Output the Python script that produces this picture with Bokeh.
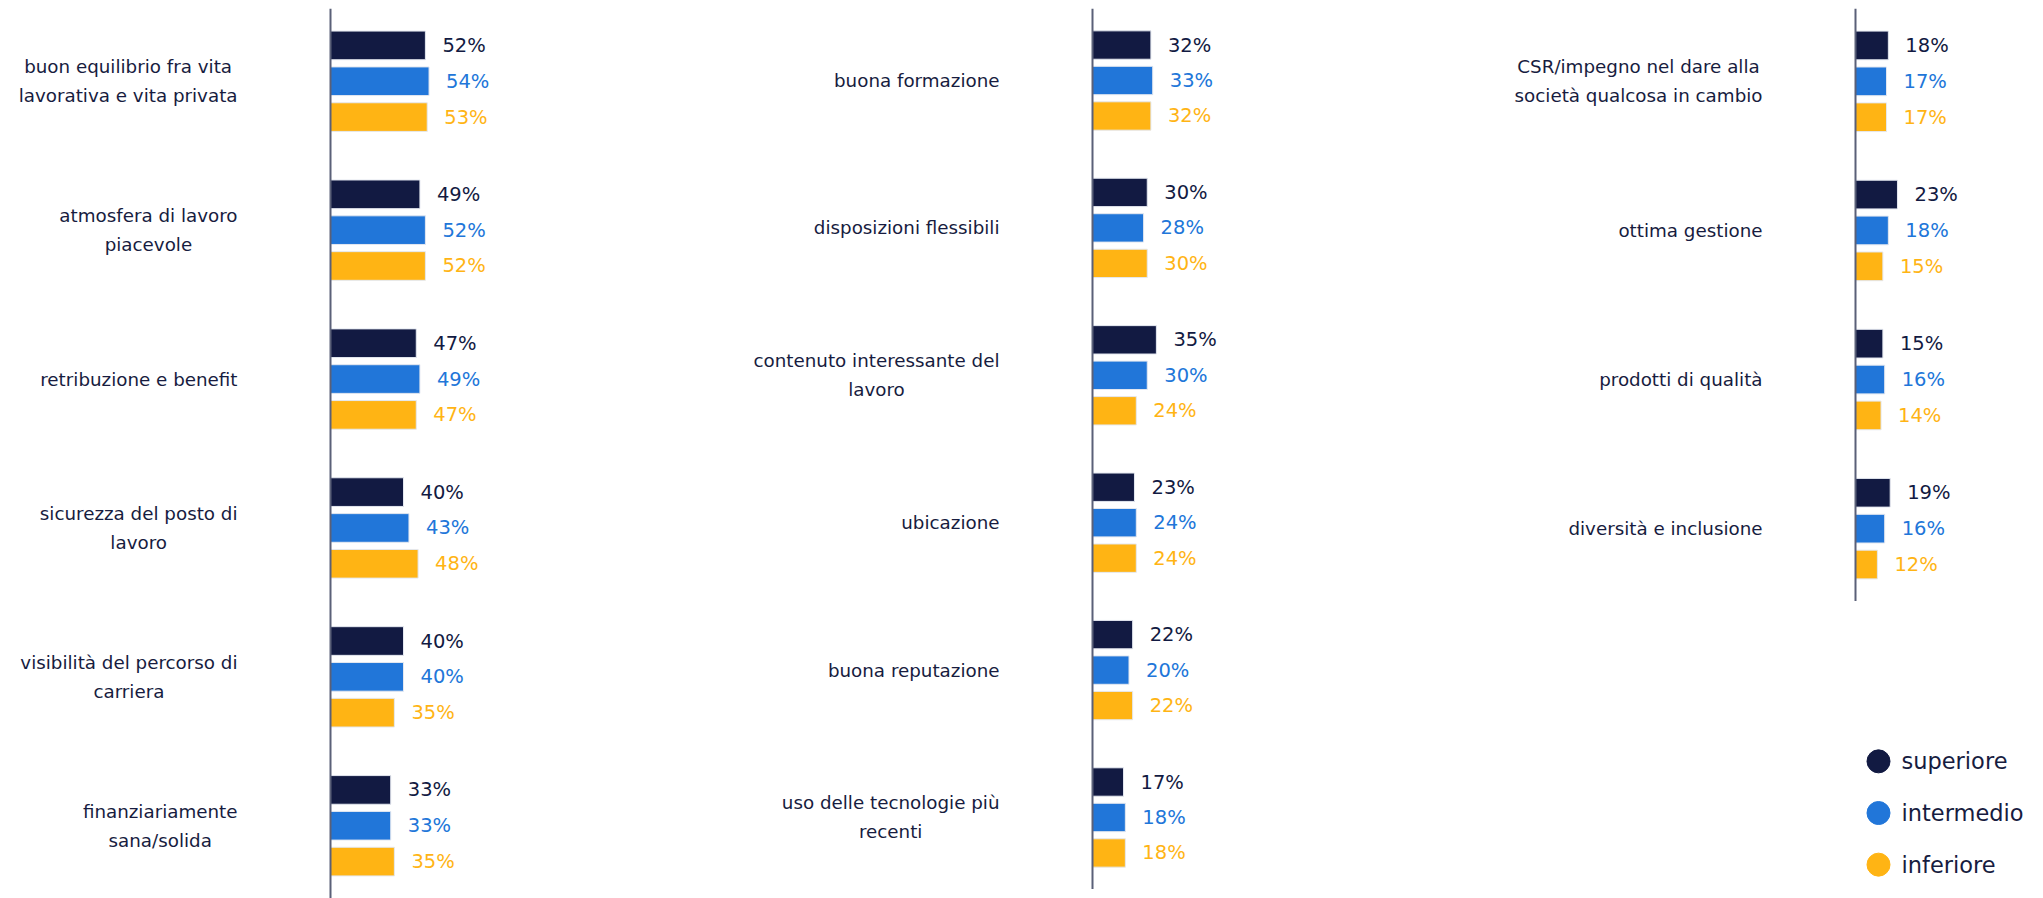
from bokeh.plotting import figure
from bokeh.models import FactorRange, Range1d, Span, ColumnDataSource
from bokeh.layouts import row, column
from bokeh.core.properties import value
from bokeh.embed import file_html
from bokeh.resources import INLINE

# ---------------- data ----------------
series = ["superiore", "intermedio", "inferiore"]
colors = ["#121a42", "#2176d9", "#ffb414"]

cats1 = ["buon equilibrio fra vita\nlavorativa e vita privata",
         "atmosfera di lavoro\npiacevole",
         "retribuzione e benefit",
         "sicurezza del posto di\nlavoro",
         "visibilità del percorso di\ncarriera",
         "finanziariamente\nsana/solida"]
sup1 = [52, 49, 47, 40, 40, 33]
int1 = [54, 52, 49, 43, 40, 33]
inf1 = [53, 52, 47, 48, 35, 35]

cats2 = ["buona formazione",
         "disposizioni flessibili",
         "contenuto interessante del\nlavoro",
         "ubicazione",
         "buona reputazione",
         "uso delle tecnologie più\nrecenti"]
sup2 = [32, 30, 35, 23, 22, 17]
int2 = [33, 28, 30, 24, 20, 18]
inf2 = [32, 30, 24, 24, 22, 18]

cats3 = ["CSR/impegno nel dare alla\nsocietà qualcosa in cambio",
         "ottima gestione",
         "prodotti di qualità",
         "diversità e inclusione"]
sup3 = [18, 23, 15, 19]
int3 = [17, 18, 16, 16]
inf3 = [17, 15, 14, 12]

# ---------------- style ----------------
FONT = "DejaVu Sans"
TXT = "#171c40"
AXIS = "#5a6078"
PX = 1.825  # pixels per percent
TOP = 8


def panel(cats, vals, width, height, axis_px, left=0):
    factors = [(c, s) for c in reversed(cats) for s in reversed(series)]
    yr = FactorRange(factors=factors, factor_padding=0, group_padding=1.155,
                     range_padding=0.53, range_padding_units="absolute")
    xr = Range1d(-axis_px / PX, (width - axis_px) / PX)
    p = figure(width=width + left, height=height + TOP, x_range=xr, y_range=yr,
               output_backend="svg", toolbar_location=None, min_border=0,
               min_border_top=TOP, min_border_left=left,
               outline_line_color=None, background_fill_color="white",
               border_fill_color="white")
    p.xaxis.visible = False
    p.yaxis.visible = False
    p.xgrid.visible = False
    p.ygrid.visible = False
    for s, col, v in zip(series, colors, vals):
        src = ColumnDataSource(dict(y=[(c, s) for c in cats], v=v,
                                    lab=[f"{x}%" for x in v]))
        p.hbar(y="y", left=0, right="v", height=0.8, source=src,
               fill_color=col, line_color="#e4e8f0", line_width=1)
        p.text(x="v", y="y", text="lab", source=src, x_offset=17,
               text_align="left", text_baseline="middle", text_color=col,
               text_font=value(FONT), text_font_size="19.5px")
    p.text(x=[0] * len(cats), y=cats, text=cats, x_offset=-93,
           anchor="center_right", text_align="center", text_baseline="middle",
           text_color=TXT, text_font=value(FONT), text_font_size="18.3px",
           text_line_height=1.38)
    p.add_layout(Span(location=0, dimension="height", line_color=AXIS,
                      line_width=2))
    return p


p1 = panel(cats1, [sup1, int1, inf1], 552, 890, 322, left=8)
p2 = panel(cats2, [sup2, int2, inf2], 840, 881, 532)
p3 = panel(cats3, [sup3, int3, inf3], 635, 593, 455)

# legend figure
lw = 635
lx = 478
leg = figure(width=lw, height=297, x_range=Range1d(-lx, lw - lx),
             y_range=FactorRange(factors=list(reversed(series)), factor_padding=0,
                                 range_padding=0.078, range_padding_units="absolute"),
             output_backend="svg", toolbar_location=None, min_border=0,
             min_border_top=130, min_border_bottom=4, outline_line_color=None)
leg.xaxis.visible = False
leg.yaxis.visible = False
leg.xgrid.visible = False
leg.ygrid.visible = False
lsrc = ColumnDataSource(dict(x=[0] * len(series), y=series, c=colors))
leg.scatter(x="x", y="y", size=23, marker="circle", fill_color="c",
            line_color="c", source=lsrc)
leg.text(x="x", y="y", text="y", source=lsrc, x_offset=23, text_align="left",
         text_baseline="middle", text_color=TXT, text_font=value(FONT),
         text_font_size="22.5px")

layout = row(p1, p2, column(p3, leg))
open("out.html", "w").write(file_html(layout, INLINE))
